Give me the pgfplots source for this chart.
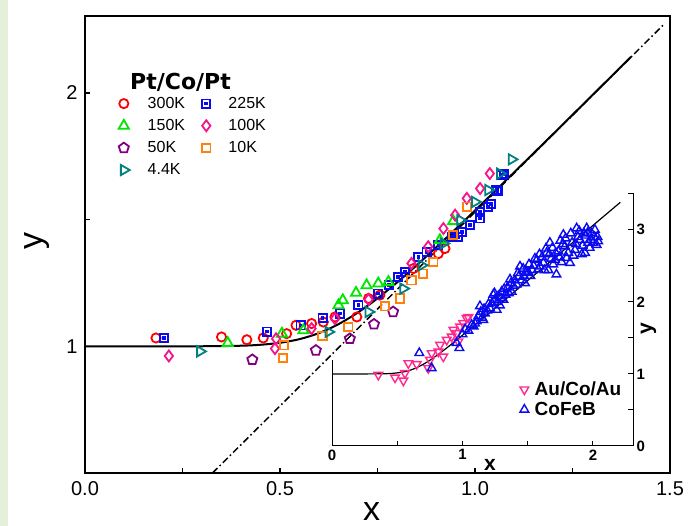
\documentclass[border=0pt]{standalone}
\usepackage{fontspec}
\setmainfont{Liberation Sans}
\newfontfamily\dejavu{DejaVu Sans}
\usepackage{pgfplots}
\pgfplotsset{compat=1.18}
\usetikzlibrary{plotmarks}

\definecolor{cRed}{RGB}{255,0,0}
\definecolor{cBlue}{RGB}{10,10,240}
\definecolor{cGreen}{RGB}{0,230,0}
\definecolor{cPink}{RGB}{245,20,140}
\definecolor{cPurple}{RGB}{128,0,128}
\definecolor{cOrange}{RGB}{255,128,10}
\definecolor{cTeal}{RGB}{0,128,128}
\definecolor{cInPink}{RGB}{255,40,140}
\definecolor{cStrip}{RGB}{228,240,220}

\pgfdeclareplotmark{sqdot}{%
  \pgfpathrectangle{\pgfqpoint{-\pgfplotmarksize}{-\pgfplotmarksize}}{\pgfqpoint{2\pgfplotmarksize}{2\pgfplotmarksize}}%
  \pgfusepathqstroke
  \pgfpathrectangle{\pgfqpoint{-0.22\pgfplotmarksize}{-0.22\pgfplotmarksize}}{\pgfqpoint{0.44\pgfplotmarksize}{0.44\pgfplotmarksize}}%
  \pgfusepathqstroke}

\pgfplotsset{dotleg/.style={legend image code/.code={\draw[##1] plot coordinates {(0pt,0pt)};}}}

\begin{document}
\begin{tikzpicture}
\useasboundingbox (0pt,0pt) rectangle (692pt,526pt);
\fill[cStrip] (0pt,0pt) rectangle (8pt,526pt);

\begin{axis}[
  at={(85pt,53pt)}, anchor=south west,
  width=585pt, height=457pt, scale only axis,
  xmin=0, xmax=1.5, ymin=0.5, ymax=2.304,
  axis line style={line width=1.4pt},
  tick align=inside, xtick pos=bottom, ytick pos=left,
  xtick={0,0.5,1,1.5}, minor xtick={0.25,0.75,1.25},
  xticklabels={0.0,0.5,1.0,1.5},
  ytick={1,2}, minor ytick={1.5},
  yticklabels={1,2},
  major tick length=5pt, minor tick length=5pt,
  every tick/.style={line width=1.1pt, black},
  ticklabel style={font=\fontsize{20}{24}\selectfont},
  xticklabel style={yshift=-5pt},
  yticklabel style={xshift=-4pt},
  xlabel={x}, ylabel={y},
  xlabel style={font=\fontsize{34}{34}\selectfont, inner sep=0pt, at={(axis description cs:0.49,-0.103)}, anchor=base},
  ylabel style={font=\fontsize{34}{34}\selectfont, inner sep=0pt, at={(axis description cs:-0.0735,0.508)}, anchor=base},
  legend columns=2,
  legend cell align=left,
  legend style={draw=none, fill=none, inner sep=0pt,
    at={(axis description cs:0.0573,0.827)}, anchor=north west,
    font=\fontsize{16}{19}\selectfont,
    /tikz/every odd column/.style={column sep=16pt},
    /tikz/every even column/.style={column sep=15pt},
    row sep=5.5pt},
]
\addplot[only marks, color=cRed, mark=o, mark size=4.6pt, mark options={line width=1.8pt}, dotleg] coordinates {
(0.182,1.033)(0.350,1.037)(0.415,1.026)(0.457,1.033)(0.517,1.050)(0.541,1.083)(0.581,1.090)(0.611,1.096)(0.641,1.116)(0.697,1.116)(0.727,1.189)(0.756,1.202)(0.842,1.307)(0.906,1.366)(0.923,1.386)};
\addlegendentry{300K}
\addplot[only marks, color=cBlue, mark=sqdot, mark size=4.1pt, mark options={line width=1.8pt}, dotleg] coordinates {
(0.203,1.033)(0.466,1.058)(0.553,1.083)(0.609,1.113)(0.654,1.129)(0.701,1.162)(0.752,1.208)(0.780,1.241)(0.803,1.274)(0.821,1.294)(0.855,1.353)(0.876,1.373)(0.906,1.399)(0.940,1.432)(0.957,1.432)(0.966,1.452)(0.987,1.478)(1.013,1.505)(1.013,1.531)(1.034,1.551)(1.041,1.561)(1.055,1.617)(1.058,1.614)(1.068,1.676)(1.075,1.680)};
\addlegendentry{225K}
\addplot[only marks, color=cGreen, mark=triangle, mark size=5.9pt, mark options={line width=1.8pt}, dotleg] coordinates {
(0.366,1.013)(0.505,1.050)(0.560,1.063)(0.650,1.162)(0.661,1.182)(0.695,1.211)(0.722,1.241)(0.752,1.248)(0.778,1.254)(0.910,1.419)(0.944,1.494)};
\addlegendentry{150K}
\addplot[only marks, color=cPink, mark=diamond, mark size=5.5pt, mark options={line width=1.8pt}, dotleg] coordinates {
(0.215,0.962)(0.487,0.991)(0.490,1.030)(0.581,1.070)(0.641,1.109)(0.727,1.185)(0.837,1.327)(0.880,1.393)(0.919,1.465)(0.949,1.518)(0.979,1.584)(1.013,1.623)(1.038,1.682)};
\addlegendentry{100K}
\addplot[only marks, color=cPurple, mark=pentagon, mark size=5.3pt, mark options={line width=1.8pt}, dotleg] coordinates {
(0.429,0.947)(0.592,0.984)(0.679,1.030)(0.741,1.087)(0.790,1.136)};
\addlegendentry{50K}
\addplot[only marks, color=cOrange, mark=square, mark size=4.2pt, mark options={line width=1.8pt}, dotleg] coordinates {
(0.508,0.954)(0.510,1.004)(0.609,1.040)(0.675,1.076)(0.769,1.158)(0.808,1.189)(0.837,1.261)(0.867,1.287)(0.893,1.333)(0.944,1.440)(0.979,1.551)};
\addlegendentry{10K}
\addplot[only marks, color=cTeal, mark=triangle, mark size=5.9pt, mark options={line width=1.8pt, rotate=-90}, dotleg] coordinates {
(0.295,0.980)(0.624,1.057)(0.727,1.136)(0.816,1.228)(0.863,1.320)(0.919,1.406)(0.962,1.498)(1.000,1.570)(1.034,1.617)(1.064,1.682)(1.094,1.738)};
\addlegendentry{4.4K}
\addplot[forget plot, black, line width=1.5pt, dash pattern=on 7pt off 3pt on 1.5pt off 3pt] coordinates {(0.327,0.5)(1.487,2.275)};
\addplot[forget plot, black, line width=2pt, smooth] coordinates {
(0,1)(0.3,1.0003)(0.4,1.0024)(0.45,1.0062)(0.5,1.014)(0.55,1.0284)(0.6,1.0523)(0.65,1.0875)(0.7,1.1338)(0.75,1.1895)(0.8,1.252)(0.85,1.3195)(0.9,1.39)(0.95,1.4625)(1.0,1.5362)(1.05,1.611)(1.1,1.6864)(1.2,1.8376)(1.3,1.990)(1.4,2.1426)};
\end{axis}

\node[font=\dejavu\bfseries\fontsize{22}{26}\selectfont, anchor=base west, inner sep=0pt] at (130pt,436pt) {Pt/Co/Pt};

\begin{axis}[
  at={(332pt,80pt)}, anchor=south west,
  width=301pt, height=253pt, scale only axis,
  xmin=0, xmax=2.307, ymin=0, ymax=3.51,
  axis x line=bottom, axis y line=right,
  axis line style={-, line width=1pt},
  tick align=inside,
  xtick={0,1,2}, minor xtick={0.5,1.5},
  xticklabels={0,1,2},
  ytick={0,1,2,3}, minor ytick={0.5,1.5,2.5,3.5},
  yticklabels={0,1,2,3},
  major tick length=5pt, minor tick length=5pt,
  every tick/.style={line width=1pt, black},
  ticklabel style={font=\bfseries\fontsize{15}{17}\selectfont},
  xlabel={x}, ylabel={y},
  xlabel style={font=\bfseries\fontsize{21}{21}\selectfont, at={(axis description cs:0.525,-0.095)}, anchor=base},
  ylabel style={font=\bfseries\fontsize{21}{21}\selectfont, at={(axis description cs:1.063,0.462)}, anchor=base},
  legend cell align=left,
  legend style={draw=none, fill=none, inner sep=0pt,
    at={(axis description cs:0.624,0.262)}, anchor=north west,
    font=\bfseries\fontsize{19}{22}\selectfont,
    /tikz/every odd column/.style={column sep=4pt},
    row sep=1pt},
]
\draw[line width=1pt] (axis cs:0,0) -- (axis cs:0,1.19);
\addplot[only marks, color=cInPink, mark=triangle, mark size=5pt, mark options={line width=1.4pt, rotate=180}, dotleg] coordinates {
(0.355,0.986)(0.483,0.949)(0.547,0.907)(0.559,1.010)(0.585,1.148)(0.649,1.135)(0.738,1.079)(0.751,1.194)(0.764,1.287)(0.815,1.310)(0.853,1.240)(0.828,1.403)(0.879,1.472)(0.917,1.518)(0.930,1.611)(0.955,1.565)(0.968,1.449)(0.981,1.657)(1.006,1.704)(1.032,1.773)(1.045,1.787)};
\addlegendentry{Au/Co/Au}
\addplot[only marks, color=cBlue, mark=triangle, mark size=5pt, mark options={line width=1.4pt}, dotleg] coordinates {
(0.669,1.29)(0.764,1.08)(0.955,1.43)(0.976,1.36)(1.000,1.55)(1.020,1.62)(1.045,1.60)(1.070,1.68)(1.096,1.70)(1.109,1.73)(1.121,1.80)(1.134,1.94)(1.150,1.78)(1.159,1.75)(1.172,1.84)(1.190,1.88)(1.211,1.91)(1.225,1.98)(1.236,2.10)(1.249,2.03)(1.262,1.89)(1.275,2.08)(1.287,1.95)(1.300,2.14)(1.313,2.03)(1.330,2.10)(1.345,2.20)(1.364,2.31)(1.377,2.14)(1.390,2.22)(1.415,2.24)(1.430,2.35)(1.441,2.49)(1.455,2.30)(1.479,2.26)(1.490,2.42)(1.504,2.40)(1.520,2.36)(1.545,2.50)(1.569,2.58)(1.580,2.45)(1.594,2.49)(1.610,2.62)(1.630,2.44)(1.645,2.68)(1.658,2.44)(1.670,2.82)(1.680,2.60)(1.695,2.52)(1.709,2.58)(1.720,2.38)(1.735,2.70)(1.750,2.85)(1.760,2.55)(1.773,2.93)(1.785,2.77)(1.798,2.61)(1.810,2.68)(1.824,2.54)(1.840,2.82)(1.862,2.72)(1.875,3.02)(1.885,2.90)(1.900,2.86)(1.915,2.66)(1.930,2.95)(1.939,2.68)(1.952,3.02)(1.964,2.82)(1.975,2.75)(1.990,2.95)(2.002,2.82)(2.015,3.00)(2.028,2.79)(2.035,2.90)
(1.085,1.66)(1.140,1.86)(1.165,1.90)(1.200,1.97)(1.245,2.12)(1.268,2.00)(1.295,2.05)(1.320,2.18)(1.355,2.12)(1.372,2.26)(1.400,2.30)(1.425,2.40)(1.465,2.46)(1.470,2.36)(1.510,2.52)(1.535,2.44)(1.555,2.60)(1.590,2.66)(1.620,2.54)(1.640,2.74)(1.665,2.66)(1.690,2.75)(1.715,2.68)(1.745,2.62)(1.770,2.80)(1.790,2.88)(1.830,2.95)(1.850,2.64)(1.870,2.80)(1.895,2.98)(1.920,2.78)(1.945,2.92)(1.960,2.96)(1.985,2.86)(2.010,2.90)(2.040,2.84)};
\addlegendentry{CoFeB}
\addplot[forget plot, black, line width=1.2pt, smooth] coordinates {
(0,1)(0.3,1.0003)(0.4,1.0024)(0.45,1.0062)(0.5,1.014)(0.55,1.0284)(0.6,1.0523)(0.65,1.0875)(0.7,1.1338)(0.75,1.1895)(0.8,1.252)(0.85,1.3195)(0.9,1.39)(0.95,1.4625)(1.0,1.5362)(1.05,1.611)(1.1,1.6864)(1.2,1.8376)(1.3,1.990)(1.4,2.1426)(1.5,2.295)(1.6,2.448)(1.8,2.754)(2.0,3.06)(2.21,3.381)};
\end{axis}
\end{tikzpicture}
\end{document}
